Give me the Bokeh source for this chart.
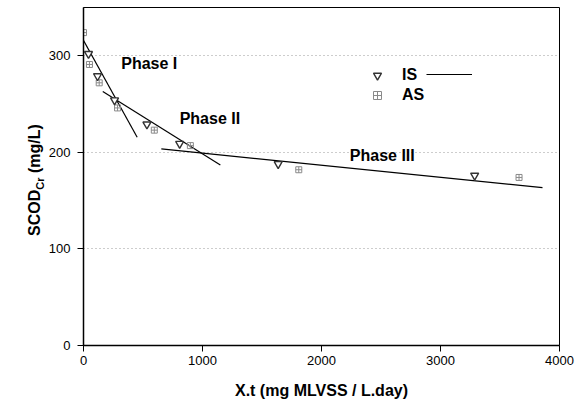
from bokeh.plotting import figure
from bokeh.layouts import row
from bokeh.models import (ColumnDataSource, Label, Legend, LegendItem,
                          FixedTicker, Div)
from bokeh.embed import file_html
from bokeh.resources import INLINE

# SCOD vs cumulative biomass loading (X.t)
is_x = [42, 118, 261, 533, 808, 1636, 3287]
is_y = [302, 279, 254, 229, 209, 188, 176]

as_x = [0, 50, 132, 286, 595, 898, 1809, 3660]
as_y = [324, 291, 272, 246, 223, 207, 182, 174]

# fitted trend lines for the three phases (end points)
phase_names = ["Phase I", "Phase II", "Phase III"]
phase_x0 = [-129, 162, 654]
phase_y0 = [344.7, 263, 203.6]
phase_x1 = [451, 1150, 3857]
phase_y1 = [215.7, 186.8, 163.4]

# phase annotation anchors
phase_lx = [317, 808, 2238]
phase_ly = [292, 235, 197]

x_ticks = [0, 1000, 2000, 3000, 4000]
y_ticks = [0, 100, 200, 300]

FONT = "Liberation Sans"
TITLE_W = 45  # width of the strip that holds the vertical y title

p = figure(width=579 - TITLE_W, height=403, x_range=(0, 4000), y_range=(0, 350),
           output_backend="svg", toolbar_location=None,
           min_border_left=83 - TITLE_W, min_border_right=20,
           min_border_top=7, min_border_bottom=58)

p.background_fill_color = "white"
p.border_fill_color = "white"
p.outline_line_color = "black"
p.outline_line_width = 1

# axes
for ax in (p.xaxis, p.yaxis):
    ax.axis_line_color = "black"
    ax.axis_line_width = 1.5
    ax.major_tick_line_color = "black"
    ax.major_tick_out = 6
    ax.major_tick_in = 0
    ax.minor_tick_line_color = None
    ax.major_label_text_font = FONT
    ax.major_label_text_font_size = "13px"
    ax.major_label_text_color = "black"

p.xaxis.ticker = FixedTicker(ticks=x_ticks)
p.yaxis.ticker = FixedTicker(ticks=y_ticks)
p.xaxis.major_label_standoff = 4
p.yaxis.major_label_standoff = 7

p.xaxis.axis_label = "X.t (mg MLVSS / L.day)"
p.xaxis.axis_label_text_font = FONT
p.xaxis.axis_label_text_font_style = "bold"
p.xaxis.axis_label_text_font_size = "16px"
p.xaxis.axis_label_text_color = "black"
p.xaxis.axis_label_standoff = 14

# grid: dotted horizontal lines only
p.xgrid.grid_line_color = None
p.ygrid.grid_line_color = "#9a9a9a"
p.ygrid.grid_line_dash = "1 3"
p.ygrid.grid_line_width = 1

# phase trend lines
seg_src = ColumnDataSource(dict(x0=phase_x0, y0=phase_y0,
                                x1=phase_x1, y1=phase_y1))
r_trend = p.segment("x0", "y0", "x1", "y1", source=seg_src,
                    line_color="black", line_width=1.2)

# data points
as_src = ColumnDataSource(dict(x=as_x, y=as_y))
is_src = ColumnDataSource(dict(x=is_x, y=is_y))
r_as = p.scatter("x", "y", source=as_src, marker="square_cross", size=6,
                 fill_color=None, line_color="#8a8a8a", line_width=1)
r_is = p.scatter("x", "y", source=is_src, marker="inverted_triangle", size=8,
                 fill_color="white", line_color="#333333", line_width=1.4)

# phase labels
for name, lx, ly in zip(phase_names, phase_lx, phase_ly):
    p.add_layout(Label(x=lx, y=ly, text=name, text_font=FONT,
                       text_font_style="bold", text_font_size="16px",
                       text_baseline="middle", text_align="left",
                       text_color="black"))

# legend: markers with labels
leg = Legend(items=[LegendItem(label="IS", renderers=[r_is]),
                    LegendItem(label="AS", renderers=[r_as])],
             location=(284, 240), orientation="vertical",
             glyph_width=20, glyph_height=20, label_height=20,
             label_standoff=15, spacing=0, padding=0, margin=0,
             border_line_color=None, background_fill_alpha=0,
             label_text_font=FONT, label_text_font_style="bold",
             label_text_font_size="16px", label_text_color="black")
p.add_layout(leg)

# trend-line key placed after "IS"
leg2 = Legend(items=[LegendItem(label=" ", renderers=[r_trend])],
              location=(343, 261), glyph_width=46, glyph_height=20,
              label_height=20, label_standoff=0, padding=0, margin=0,
              border_line_color=None, background_fill_alpha=0,
              label_text_font_size="4px")
p.add_layout(leg2)

# vertical y-axis title with a subscript
ytitle = Div(
    text=(
        '<div style="position:relative; width:%dpx; height:403px;">'
        '<span style="position:absolute; left:35px; top:180px; '
        'transform:translate(-50%%,-50%%) rotate(-90deg); white-space:nowrap; '
        "font-family:'Liberation Sans', Arial, sans-serif; font-weight:bold; "
        'font-size:16px; color:black; line-height:16px;">'
        'SCOD<span style="font-size:11px; position:relative; top:4px;">Cr</span>'
        ' (mg/L)</span></div>' % TITLE_W
    ),
    width=TITLE_W, height=403, margin=0,
)

layout = row(ytitle, p, spacing=0)

open("out.html", "w").write(file_html(layout, INLINE))
